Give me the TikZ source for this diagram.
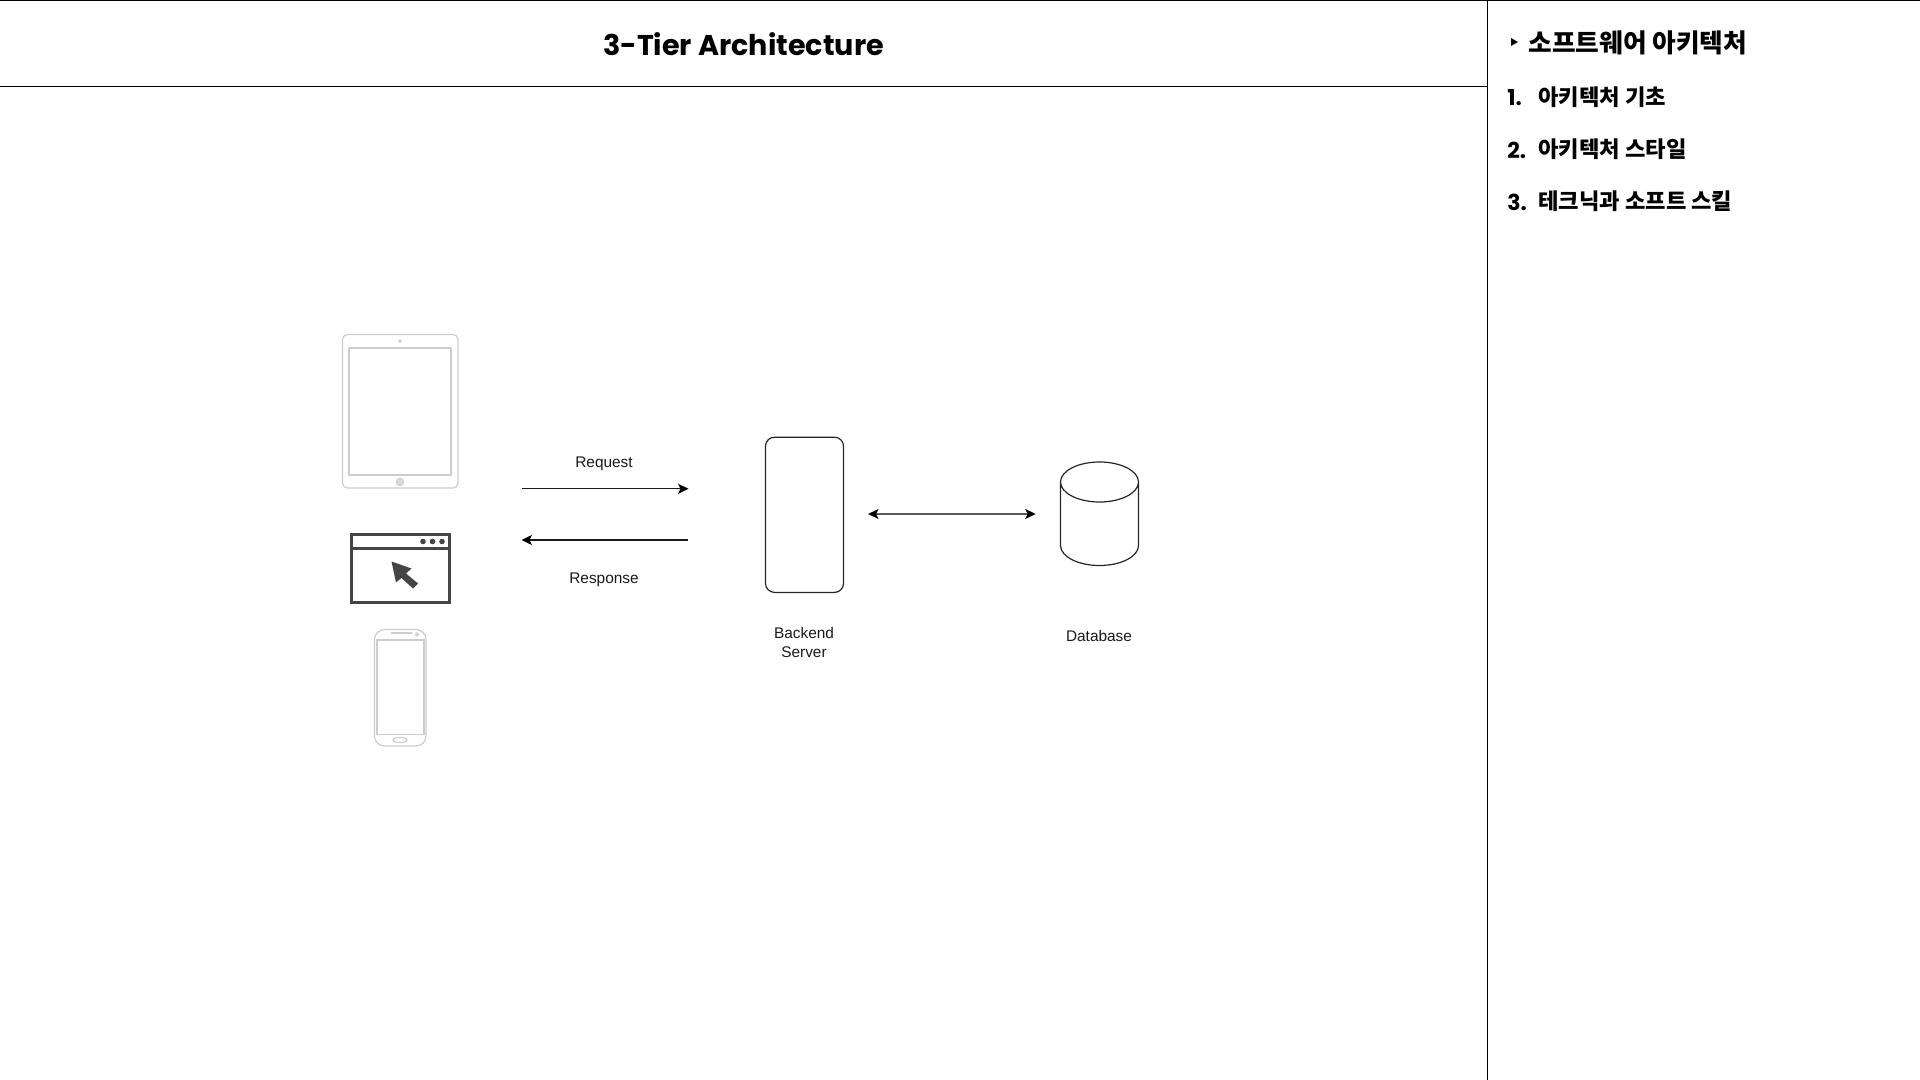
\documentclass[tikz,border=0pt]{standalone}
\usepackage{fontspec}
\usetikzlibrary{arrows.meta}
\setmainfont{Liberation Sans}
\newfontfamily\krfont{Noto Sans CJK KR}
\newfontfamily\titlefont{Poppins}
\definecolor{devgray}{HTML}{CDCDCD}
\definecolor{webgray}{HTML}{454545}
\tikzset{
  px/.style={x=0.5pt,y=-0.5pt},
  frameline/.style={draw=black,line width=0.5pt},
  devline/.style={draw=devgray,line width=0.6pt},
  webline/.style={draw=webgray,line width=1.5pt},
  diagline/.style={draw=black!85,line width=0.6pt},
  flow/.style={draw=black!90,line width=0.6pt,-{Stealth[length=5.2pt,width=5pt,inset=1.2pt,black]}},
  flowboth/.style={draw=black!65,line width=0.8pt,{Stealth[length=5.2pt,width=5pt,inset=1.2pt,black]}-{Stealth[length=5.2pt,width=5pt,inset=1.2pt,black]}},
  label/.style={inner sep=0pt,align=center,font=\fontsize{7.7}{9.6}\selectfont,text=black!90},
  sidehead/.style={inner sep=0pt,anchor=west,font=\krfont\bfseries\fontsize{12.85}{14}\selectfont},
  sideitem/.style={inner sep=0pt,anchor=west,font=\krfont\bfseries\fontsize{11.1}{12}\selectfont},
  sidenum/.style={inner sep=0pt,anchor=west,font=\titlefont\bfseries\fontsize{11}{12}\selectfont},
}
\begin{document}
\begin{tikzpicture}[px]
\useasboundingbox (0,0) rectangle (1920,1080);
% frame
\coordinate (topL) at (0,0.6);
\coordinate (topR) at (1920,0.6);
\coordinate (headL) at (0,87);
\coordinate (headR) at (1487.5,87);
\coordinate (divT) at (1487.5,0);
\coordinate (divB) at (1487.5,1080);
\draw[frameline] (topL) -- (topR);
\draw[frameline] (headL) -- (headR);
\draw[frameline] (divT) -- (divB);
% title
\node[inner sep=0pt,font=\titlefont\bfseries\fontsize{14.3}{16}\selectfont] (title) at (743.5,44) {3-Tier Architecture};
% sidebar
\fill[black] (1511,38) -- (1518,42) -- (1511,46) -- cycle;
\node[sidehead] (s0) at (1528,43) {소프트웨어 아키텍처};
\node[sidenum] (n1) at (1507,98) {1.};
\node[sideitem] (s1) at (1538,97) {아키텍처 기초};
\node[sidenum] (n2) at (1507,150) {2.};
\node[sideitem] (s2) at (1538,149) {아키텍처 스타일};
\node[sidenum] (n3) at (1507,202) {3.};
\node[sideitem] (s3) at (1538,201) {테크닉과 소프트 스킬};
% tablet
\draw[devline,rounded corners=2.5pt] (342.5,334.5) rectangle (458,488);
\draw[devline] (349,348) rectangle (451,475);
\fill[devgray] (400,341) circle (1.8);
\draw[devline,fill=devgray!70] (400,482) circle (3.6);
% browser
\draw[webline] (351.5,534.5) rectangle (449,602.5);
\draw[webline] (351.5,548) -- (449,548);
\fill[webgray] (423,541.5) circle (2.8);
\fill[webgray] (432.5,541.5) circle (2.8);
\fill[webgray] (442,541.5) circle (2.8);
\fill[webgray] (391.5,561.5) -- (411.5,568.5) -- (406,573.5) -- (418,583.5) -- (413,588.5) -- (401.5,578) -- (396,582.5) -- cycle;
% phone
\draw[devline,rounded corners=5pt] (374.5,629.5) rectangle (426,746);
\draw[devline] (377,640) rectangle (424,734.5);
\draw[devline,line width=1pt] (391,632.5) -- (412,632.5);
\draw[devline] (417,634.5) circle (1.5);
\draw[devline] (400,740) ellipse (7 and 2.6);
% backend server
\node[diagline,rounded corners=4.5pt,minimum width=39pt,minimum height=77.6pt,inner sep=0pt] (server) at (804.5,514.8) {};
\node[label] (serverlabel) at (804,642.5) {Backend\\Server};
% database
\node[minimum width=39.2pt,minimum height=52pt,inner sep=0pt] (db) at (1099.25,514) {};
\draw[diagline] (1060.5,482) arc (180:0:39 and 20) arc (0:-180:39 and 20) -- (1060.5,545.5) arc (180:0:39 and 20) -- (1138.5,482);
\node[label] (dblabel) at (1099,636) {Database};
% connectors
\coordinate (reqA) at (522,488.8);
\coordinate (reqB) at (688.5,488.8);
\coordinate (resA) at (688,540);
\coordinate (resB) at (521.5,540);
\draw[flow] (reqA) -- (reqB);
\draw[flow] (resA) -- (resB);
\node[label] (req) at (604,464) {Request};
\node[label] (res) at (604,580) {Response};
\draw[flowboth,shorten <=12pt,shorten >=12pt] (server.east |- db.west) -- (db.west);
\end{tikzpicture}
\end{document}
